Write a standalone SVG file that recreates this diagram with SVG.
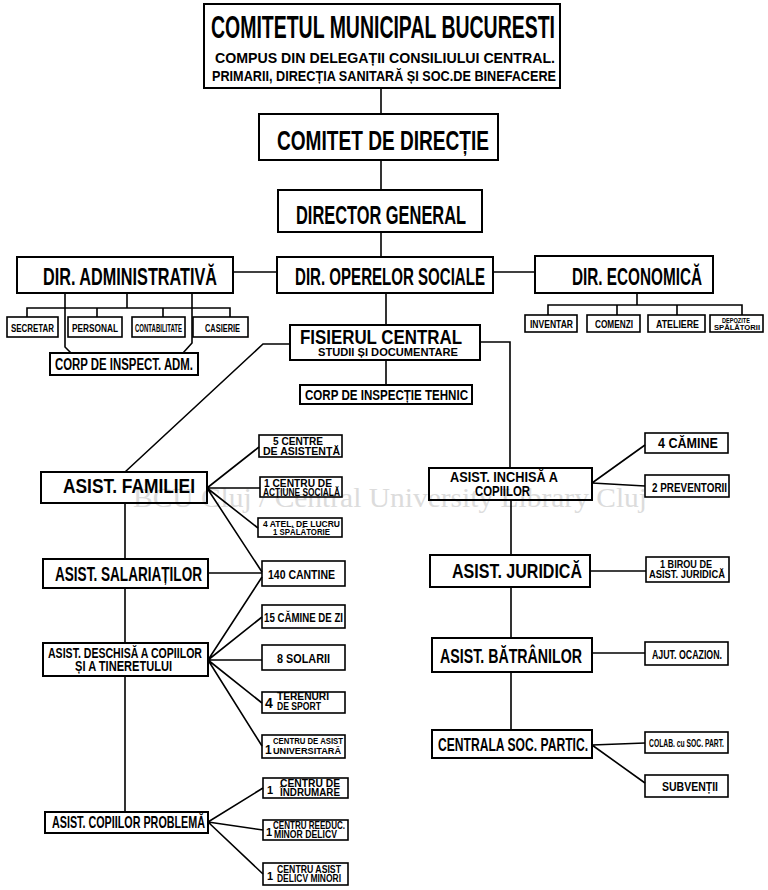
<svg xmlns="http://www.w3.org/2000/svg" width="768" height="890" viewBox="0 0 768 890">
<style>
.bx{fill:none;stroke:#000;stroke-width:2}
.sb{fill:none;stroke:#000;stroke-width:1.6}
.t{font-family:"Liberation Sans",Arial,sans-serif;font-weight:bold;fill:#000}
.wm{font-family:"Liberation Serif","Times New Roman",serif;fill:#dcdcdc}
#connectors path,#connectors line{stroke:#000;stroke-width:1.6;fill:none}
</style>
<rect x="0" y="0" width="768" height="890" fill="#fff"/>
<text class="wm" x="133" y="507" font-size="28" textLength="514" lengthAdjust="spacingAndGlyphs">BCU Cluj / Central University Library Cluj</text>

<g id="connectors">
<line x1="381" y1="88" x2="381" y2="114"/>
<line x1="381" y1="160" x2="381" y2="190"/>
<line x1="381" y1="232" x2="381" y2="257"/>
<line x1="233" y1="272" x2="277" y2="272"/>
<line x1="493" y1="272" x2="535" y2="272"/>
<line x1="127" y1="293" x2="127" y2="308"/>
<path d="M27,317 V308 H230 V317 M97,308 V317 M163,308 V317"/>
<path d="M65,293 V347 L71,353 M192,293 V343 L183,353"/>
<line x1="637" y1="293" x2="637" y2="305"/>
<path d="M548,315 V305 H742 V315 M617,305 V315 M677,305 V315"/>
<line x1="386" y1="293" x2="386" y2="325"/>
<line x1="386" y1="360" x2="386" y2="385"/>
<path d="M480,342 H510 V468"/>
<path d="M290,344 H263 L125,472"/>
<path d="M125,503 V559 M125,588 V643 M125,676 V812"/>
<path d="M207,488 L259,447 M207,488 H260 M207,488 L258,528 M207,488 L262,572"/>
<path d="M208,573 H262"/>
<path d="M208,660 L262,577 M208,660 L262,617 M208,660 H262 M208,660 L262,703 M208,660 L262,746"/>
<path d="M208,822 L263,788 M208,822 L263,830 M208,822 L263,874"/>
<path d="M511,500 V555 M511,587 V638 M511,672 V730"/>
<path d="M592,483 L645,445 M592,483 L645,486"/>
<path d="M590,571 H646"/>
<path d="M592,653 H645"/>
<path d="M592,745 L645,743 M592,745 L645,783"/>
</g>

<g id="n-comitetul">
<rect class="bx" x="204" y="4" width="356" height="84"/>
<text class="t" x="211" y="38" font-size="32" textLength="344" lengthAdjust="spacingAndGlyphs">COMITETUL MUNICIPAL BUCURESTI</text>
<text class="t" x="215" y="63" font-size="15" textLength="340" lengthAdjust="spacingAndGlyphs">COMPUS DIN DELEGAȚII  CONSILIULUI CENTRAL.</text>
<text class="t" x="212" y="81" font-size="15" textLength="344" lengthAdjust="spacingAndGlyphs">PRIMARII, DIRECȚIA SANITARĂ ȘI SOC.DE BINEFACERE</text>
</g>
<g id="n-comitet-directie">
<rect class="bx" x="259" y="114" width="239" height="46"/>
<text class="t" x="277" y="150" font-size="27" textLength="212" lengthAdjust="spacingAndGlyphs">COMITET DE DIRECȚIE</text>
</g>
<g id="n-director">
<rect class="bx" x="278" y="190" width="204" height="42"/>
<text class="t" x="296" y="224" font-size="26" textLength="170" lengthAdjust="spacingAndGlyphs">DIRECTOR GENERAL</text>
</g>
<g id="n-dir-admin">
<rect class="bx" x="17" y="257" width="216" height="36"/>
<text class="t" x="43" y="285" font-size="24" textLength="174" lengthAdjust="spacingAndGlyphs">DIR. ADMINISTRATIVĂ</text>
</g>
<g id="n-dir-operelor">
<rect class="bx" x="277" y="257" width="216" height="36"/>
<text class="t" x="295" y="285" font-size="24" textLength="190" lengthAdjust="spacingAndGlyphs">DIR. OPERELOR SOCIALE</text>
</g>
<g id="n-dir-economica">
<rect class="bx" x="535" y="256" width="178" height="37"/>
<text class="t" x="572" y="285" font-size="24" textLength="130" lengthAdjust="spacingAndGlyphs">DIR. ECONOMICĂ</text>
</g>

<g id="n-secretar"><rect class="sb" x="7" y="317" width="51" height="20"/><text class="t" x="11" y="332" font-size="11" textLength="43" lengthAdjust="spacingAndGlyphs">SECRETAR</text></g>
<g id="n-personal"><rect class="sb" x="68" y="317" width="54" height="20"/><text class="t" x="72" y="332" font-size="11" textLength="46" lengthAdjust="spacingAndGlyphs">PERSONAL</text></g>
<g id="n-contabilitate"><rect class="sb" x="132" y="317" width="53" height="20"/><text class="t" x="135" y="332" font-size="11" textLength="47" lengthAdjust="spacingAndGlyphs">CONTABILITATE</text></g>
<g id="n-casierie"><rect class="sb" x="193" y="317" width="55" height="20"/><text class="t" x="205" y="332" font-size="11" textLength="35" lengthAdjust="spacingAndGlyphs">CASIERIE</text></g>
<g id="n-corp-adm"><rect class="bx" x="50" y="353" width="148" height="22"/><text class="t" x="55" y="370" font-size="16" textLength="138" lengthAdjust="spacingAndGlyphs">CORP DE INSPECT. ADM.</text></g>

<g id="n-inventar"><rect class="sb" x="525" y="315" width="52" height="17"/><text class="t" x="530" y="328" font-size="11" textLength="43" lengthAdjust="spacingAndGlyphs">INVENTAR</text></g>
<g id="n-comenzi"><rect class="sb" x="587" y="315" width="53" height="17"/><text class="t" x="595" y="328" font-size="11" textLength="38" lengthAdjust="spacingAndGlyphs">COMENZI</text></g>
<g id="n-ateliere"><rect class="sb" x="648" y="315" width="57" height="17"/><text class="t" x="656" y="328" font-size="11" textLength="43" lengthAdjust="spacingAndGlyphs">ATELIERE</text></g>
<g id="n-depozite"><rect class="sb" x="710" y="315" width="53" height="17"/><text class="t" x="722" y="323" font-size="7" textLength="28" lengthAdjust="spacingAndGlyphs">DEPOZITE</text><text class="t" x="714" y="330" font-size="7" textLength="46" lengthAdjust="spacingAndGlyphs">SPĂLĂTORII</text></g>

<g id="n-fisierul">
<rect class="bx" x="290" y="325" width="190" height="35"/>
<text class="t" x="300" y="344" font-size="20" textLength="162" lengthAdjust="spacingAndGlyphs">FISIERUL CENTRAL</text>
<text class="t" x="318" y="356" font-size="11" textLength="140" lengthAdjust="spacingAndGlyphs">STUDII ȘI DOCUMENTARE</text>
</g>
<g id="n-corp-tehnic"><rect class="bx" x="300" y="385" width="172" height="19"/><text class="t" x="305" y="400" font-size="14" textLength="163" lengthAdjust="spacingAndGlyphs">CORP DE INSPECȚIE TEHNIC</text></g>

<g id="n-asist-familiei"><rect class="bx" x="41" y="472" width="166" height="31"/><text class="t" x="63" y="493" font-size="20" textLength="132" lengthAdjust="spacingAndGlyphs">ASIST. FAMILIEI</text></g>
<g id="n-asist-salariatilor"><rect class="bx" x="43" y="559" width="165" height="29"/><text class="t" x="55" y="581" font-size="20" textLength="147" lengthAdjust="spacingAndGlyphs">ASIST. SALARIAȚILOR</text></g>
<g id="n-asist-deschisa"><rect class="bx" x="43" y="643" width="165" height="33"/><text class="t" x="48" y="658" font-size="15" textLength="154" lengthAdjust="spacingAndGlyphs">ASIST. DESCHISĂ A COPIILOR</text><text class="t" x="75" y="671" font-size="15" textLength="97" lengthAdjust="spacingAndGlyphs">ȘI A TINERETULUI</text></g>
<g id="n-asist-problema"><rect class="bx" x="45" y="812" width="163" height="21"/><text class="t" x="52" y="828" font-size="17" textLength="153" lengthAdjust="spacingAndGlyphs">ASIST. COPIILOR PROBLEMĂ</text></g>

<g id="n-5centre"><rect class="sb" x="259" y="435" width="83" height="22"/><text class="t" x="273" y="445" font-size="10" textLength="50" lengthAdjust="spacingAndGlyphs">5 CENTRE</text><text class="t" x="263" y="455" font-size="10" textLength="77" lengthAdjust="spacingAndGlyphs">DE ASISTENȚĂ</text></g>
<g id="n-1centru-actiune"><rect class="sb" x="260" y="477" width="82" height="20"/><text class="t" x="264" y="487" font-size="10" textLength="68" lengthAdjust="spacingAndGlyphs">1 CENTRU DE</text><text class="t" x="263" y="496" font-size="10" textLength="77" lengthAdjust="spacingAndGlyphs">ACȚIUNE SOCIALĂ</text></g>
<g id="n-4atel"><rect class="sb" x="258" y="518" width="84" height="19"/><text class="t" x="263" y="527" font-size="9" textLength="77" lengthAdjust="spacingAndGlyphs">4 ATEL. DE LUCRU</text><text class="t" x="273" y="535" font-size="9" textLength="57" lengthAdjust="spacingAndGlyphs">1 SPĂLĂTORIE</text></g>
<g id="n-140cantine"><rect class="sb" x="262" y="561" width="83" height="25"/><text class="t" x="268" y="579" font-size="13" textLength="67" lengthAdjust="spacingAndGlyphs">140 CANTINE</text></g>
<g id="n-15camine"><rect class="sb" x="262" y="605" width="83" height="23"/><text class="t" x="264" y="622" font-size="13" textLength="79" lengthAdjust="spacingAndGlyphs">15 CĂMINE DE ZI</text></g>
<g id="n-8solarii"><rect class="sb" x="262" y="645" width="83" height="25"/><text class="t" x="277" y="663" font-size="13" textLength="53" lengthAdjust="spacingAndGlyphs">8 SOLARII</text></g>
<g id="n-4terenuri"><rect class="sb" x="262" y="692" width="83" height="21"/><text class="t" x="265" y="708" font-size="14">4</text><text class="t" x="277" y="700" font-size="10" textLength="52" lengthAdjust="spacingAndGlyphs">TERENURI</text><text class="t" x="277" y="710" font-size="10" textLength="44" lengthAdjust="spacingAndGlyphs">DE SPORT</text></g>
<g id="n-1centru-univ"><rect class="sb" x="262" y="735" width="83" height="23"/><text class="t" x="265" y="754" font-size="12">1</text><text class="t" x="273" y="744" font-size="9" textLength="70" lengthAdjust="spacingAndGlyphs">CENTRU DE ASIST</text><text class="t" x="273" y="754" font-size="9" textLength="68" lengthAdjust="spacingAndGlyphs">UNIVERSITARĂ</text></g>
<g id="n-1centru-indrumare"><rect class="sb" x="263" y="778" width="85" height="20"/><text class="t" x="267" y="794" font-size="11">1</text><text class="t" x="280" y="787" font-size="10" textLength="60" lengthAdjust="spacingAndGlyphs">CENTRU DE</text><text class="t" x="280" y="796" font-size="10" textLength="60" lengthAdjust="spacingAndGlyphs">ÎNDRUMARE</text></g>
<g id="n-1centru-reeduc"><rect class="sb" x="263" y="820" width="85" height="20"/><text class="t" x="266" y="836" font-size="11">1</text><text class="t" x="273" y="829" font-size="10" textLength="72" lengthAdjust="spacingAndGlyphs">CENTRU REEDUC.</text><text class="t" x="274" y="838" font-size="10" textLength="63" lengthAdjust="spacingAndGlyphs">MINOR DELICV</text></g>
<g id="n-1centru-asist"><rect class="sb" x="263" y="863" width="85" height="22"/><text class="t" x="267" y="880" font-size="11">1</text><text class="t" x="277" y="873" font-size="10" textLength="64" lengthAdjust="spacingAndGlyphs">CENTRU ASIST</text><text class="t" x="277" y="882" font-size="10" textLength="64" lengthAdjust="spacingAndGlyphs">DELICV MINORI</text></g>

<g id="n-asist-inchisa"><rect class="bx" x="429" y="468" width="163" height="32"/><text class="t" x="450" y="482" font-size="14" textLength="108" lengthAdjust="spacingAndGlyphs">ASIST. INCHISĂ A</text><text class="t" x="475" y="496" font-size="14" textLength="55" lengthAdjust="spacingAndGlyphs">COPIILOR</text></g>
<g id="n-asist-juridica"><rect class="bx" x="430" y="555" width="160" height="32"/><text class="t" x="452" y="578" font-size="20" textLength="130" lengthAdjust="spacingAndGlyphs">ASIST. JURIDICĂ</text></g>
<g id="n-asist-batranilor"><rect class="bx" x="432" y="638" width="160" height="34"/><text class="t" x="440" y="663" font-size="20" textLength="142" lengthAdjust="spacingAndGlyphs">ASIST. BĂTRÂNILOR</text></g>
<g id="n-centrala"><rect class="bx" x="432" y="730" width="160" height="28"/><text class="t" x="438" y="751" font-size="18" textLength="150" lengthAdjust="spacingAndGlyphs">CENTRALA SOC. PARTIC.</text></g>

<g id="n-4camine"><rect class="sb" x="645" y="433" width="83" height="20"/><text class="t" x="658" y="448" font-size="14" textLength="60" lengthAdjust="spacingAndGlyphs">4 CĂMINE</text></g>
<g id="n-2preventorii"><rect class="sb" x="645" y="475" width="84" height="22"/><text class="t" x="652" y="492" font-size="13" textLength="75" lengthAdjust="spacingAndGlyphs">2 PREVENTORII</text></g>
<g id="n-1birou"><rect class="sb" x="646" y="557" width="83" height="25"/><text class="t" x="660" y="568" font-size="10" textLength="52" lengthAdjust="spacingAndGlyphs">1 BIROU DE</text><text class="t" x="649" y="578" font-size="10" textLength="76" lengthAdjust="spacingAndGlyphs">ASIST. JURIDICĂ</text></g>
<g id="n-ajut"><rect class="sb" x="645" y="642" width="83" height="23"/><text class="t" x="652" y="659" font-size="12" textLength="70" lengthAdjust="spacingAndGlyphs">AJUT. OCAZION.</text></g>
<g id="n-colab"><rect class="sb" x="645" y="732" width="83" height="21"/><text class="t" x="649" y="747" font-size="11" textLength="75" lengthAdjust="spacingAndGlyphs">COLAB. cu SOC. PART.</text></g>
<g id="n-subventii"><rect class="sb" x="645" y="775" width="83" height="22"/><text class="t" x="662" y="791" font-size="12" textLength="56" lengthAdjust="spacingAndGlyphs">SUBVENȚII</text></g>
</svg>
